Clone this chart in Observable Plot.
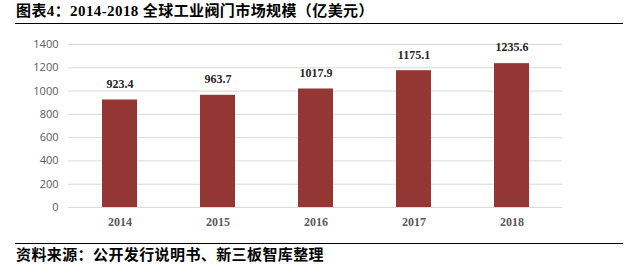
<!DOCTYPE html>
<html>
<head>
<meta charset="utf-8">
<script src="https://cdn.jsdelivr.net/npm/d3@7"></script>
<script src="https://cdn.jsdelivr.net/npm/@observablehq/plot@0.6"></script>
<style>
  html, body { margin: 0; padding: 0; background: #fff; }
  #wrap { position: relative; width: 637px; height: 267px; overflow: hidden; }
  .title, .caption {
    position: absolute; left: 16px; white-space: nowrap;
    font-family: "Liberation Serif", "Noto Sans CJK SC", serif;
    font-weight: bold; font-size: 15px; letter-spacing: 0.4px; color: #000; line-height: 1;
  }
  .title { top: 4px; }
  .caption { top: 248px; }
  .rule { position: absolute; left: 15px; width: 608px; height: 0; border-top: 1.5px solid #000; }
  #chart { position: absolute; left: 0; top: 24px; }
</style>
</head>
<body>
<div id="wrap">
  <div class="title">图表4：2014-2018 全球工业阀门市场规模（亿美元）</div>
  <div class="rule" style="top:22.5px"></div>
  <div id="chart"></div>
  <div class="rule" style="top:242.5px"></div>
  <div class="caption">资料来源：公开发行说明书、新三板智库整理</div>
</div>
<script>
const years = ["2014", "2015", "2016", "2017", "2018"];
const values = [923.4, 963.7, 1017.9, 1175.1, 1235.6];
const yTicks = [0, 200, 400, 600, 800, 1000, 1200, 1400];

const data = years.map((y, i) => ({year: y, value: values[i]}));

const chart = Plot.plot({
  width: 637,
  height: 218,
  marginTop: 20,
  marginBottom: 35,
  marginLeft: 68,
  marginRight: 75,
  style: {background: "transparent"},
  x: {domain: years, paddingInner: 0.645, paddingOuter: 0.3225, label: null},
  y: {domain: [0, 1400], ticks: yTicks, label: null},
  marks: [
    Plot.ruleY(yTicks, {stroke: "#d9d9d9", strokeWidth: 1}),
    Plot.barY(data, {x: "year", y: "value", fill: "#943634"}),
    Plot.text(data, {
      x: "year", y: "value", text: d => d.value.toFixed(1),
      dy: -16, fontSize: 12, fontWeight: "bold", fill: "#262626",
      fontFamily: "Liberation Serif, serif"
    }),
    Plot.axisY({
      ticks: yTicks, tickFormat: d => String(d), tickSize: 0, tickPadding: 10, label: null,
      fontSize: 11, fill: "#595959", fontFamily: "Open Sans, sans-serif"
    }),
    Plot.axisX({
      tickSize: 0, tickPadding: 10, label: null,
      fontSize: 12, fontWeight: "bold", fill: "#595959",
      fontFamily: "Liberation Serif, serif"
    })
  ]
});
document.getElementById("chart").appendChild(chart);
</script>
</body>
</html>
